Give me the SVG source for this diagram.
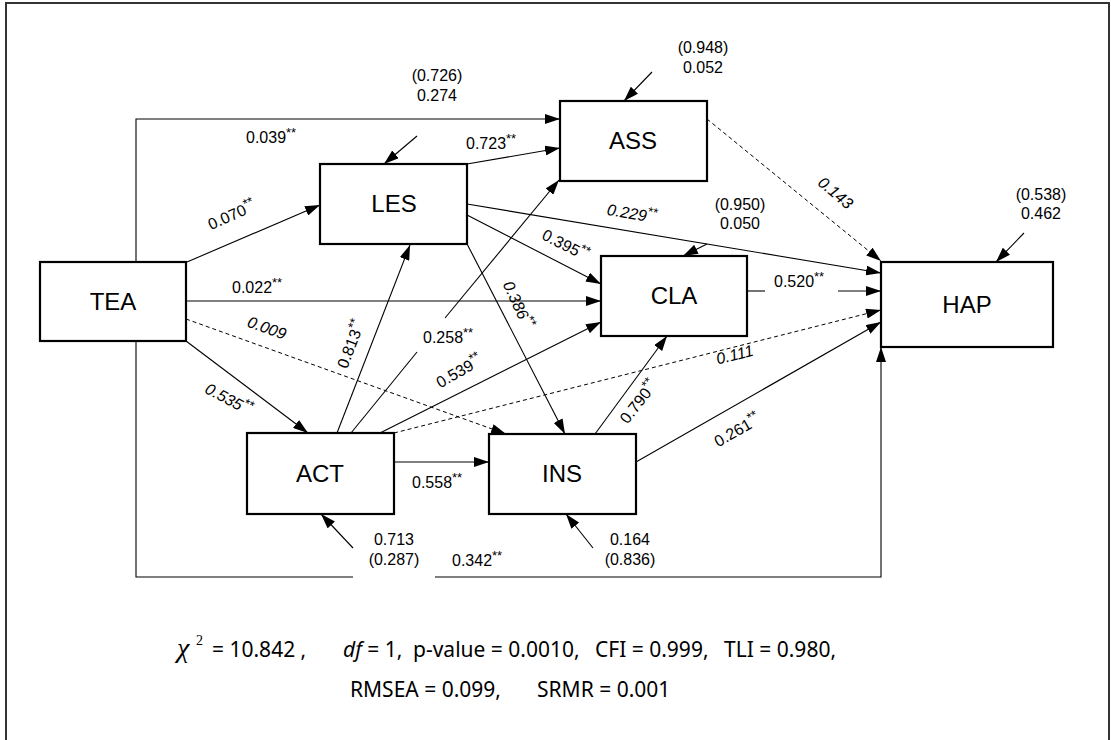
<svg xmlns="http://www.w3.org/2000/svg" width="1111" height="740" viewBox="0 0 1111 740">
<style>
.box{fill:#fff;stroke:#000;stroke-width:2.2}
.nl{font-family:"Liberation Sans",Arial,sans-serif;font-size:24px;text-anchor:middle;fill:#000}
.lb{font-family:"Liberation Sans",Arial,sans-serif;font-size:16px;fill:#000}
.c{text-anchor:middle}
.it{font-style:italic}
.sup{font-size:13px}
.ln{fill:none;stroke:#000;stroke-width:1.1}
.dash{stroke-dasharray:4 3;stroke-width:1}
.fm{font-family:"Noto Sans","DejaVu Sans",sans-serif;font-size:21px;fill:#000}
</style>
<defs>
<marker id="ah" viewBox="0 0 15 10" refX="15" refY="5" markerWidth="15" markerHeight="10" markerUnits="userSpaceOnUse" orient="auto">
<path d="M0,0 L15,5 L0,10 z" fill="#000"/>
</marker>
</defs>
<rect x="6" y="3" width="1103" height="760" fill="#fff" stroke="#333" stroke-width="2"/>

<g id="connectors">
<path class="ln" d="M136,262 V119 H560" marker-end="url(#ah)"/>
<path class="ln" d="M136,341 V577 H353"/>
<path class="ln" d="M435,577 H881 V347" marker-end="url(#ah)"/>
<path class="ln" d="M187,262 L320,205" marker-end="url(#ah)"/>
<path class="ln" d="M186,301 H601" marker-end="url(#ah)"/>
<path class="ln dash" d="M186,319 L506,434" marker-end="url(#ah)"/>
<path class="ln" d="M186,341 L308,433" marker-end="url(#ah)"/>
<path class="ln" d="M337,433 L410,245" marker-end="url(#ah)"/>
<path class="ln" d="M351,433 L417,352"/>
<path class="ln" d="M445,318 L559,180" marker-end="url(#ah)"/>
<path class="ln" d="M380,433 L601,322" marker-end="url(#ah)"/>
<path class="ln dash" d="M394,433 L881,310" marker-end="url(#ah)"/>
<path class="ln" d="M394,462 H489" marker-end="url(#ah)"/>
<path class="ln" d="M467,164 L560,148" marker-end="url(#ah)"/>
<path class="ln" d="M467,204 L881,273" marker-end="url(#ah)"/>
<path class="ln" d="M467,215 L601,284" marker-end="url(#ah)"/>
<path class="ln" d="M464,238 L565,434" marker-end="url(#ah)"/>
<path class="ln dash" d="M707,119 L881,261" marker-end="url(#ah)"/>
<path class="ln" d="M747,291 H765"/>
<path class="ln" d="M838,291 H881" marker-end="url(#ah)"/>
<path class="ln" d="M595,434 L667,336" marker-end="url(#ah)"/>
<path class="ln" d="M636,462 L881,322" marker-end="url(#ah)"/>
<path class="ln" d="M417,136 L384,164" marker-end="url(#ah)"/>
<path class="ln" d="M652,72 L624,101" marker-end="url(#ah)"/>
<path class="ln" d="M707,244 L683,256" marker-end="url(#ah)"/>
<path class="ln" d="M1024,233 L996,262" marker-end="url(#ah)"/>
<path class="ln" d="M353,548 L321,514" marker-end="url(#ah)"/>
<path class="ln" d="M593,548 L566,514" marker-end="url(#ah)"/>
</g>

<g id="TEA"><rect class="box" x="40" y="262" width="146" height="79"/><text class="nl" x="113" y="310">TEA</text></g>
<g id="LES"><rect class="box" x="320" y="164" width="147" height="80"/><text class="nl" x="394" y="212">LES</text></g>
<g id="ASS"><rect class="box" x="560" y="101" width="147" height="80"/><text class="nl" x="633" y="149">ASS</text></g>
<g id="CLA"><rect class="box" x="601" y="256" width="146" height="80"/><text class="nl" x="674" y="304">CLA</text></g>
<g id="HAP"><rect class="box" x="881" y="262" width="172" height="85"/><text class="nl" x="967" y="313">HAP</text></g>
<g id="ACT"><rect class="box" x="247" y="433" width="147" height="81"/><text class="nl" x="320" y="482">ACT</text></g>
<g id="INS"><rect class="box" x="489" y="434" width="147" height="80"/><text class="nl" x="562" y="482">INS</text></g>

<g id="labels">
<text class="lb" x="246" y="143">0.039<tspan class="sup" dy="-6">**</tspan></text>
<text class="lb c" transform="translate(234,220) rotate(-24)">0.070<tspan class="sup" dy="-6">**</tspan></text>
<text class="lb" x="232" y="293">0.022<tspan class="sup" dy="-6">**</tspan></text>
<text class="lb c it" transform="translate(265,333) rotate(20)">0.009</text>
<text class="lb c it" transform="translate(226,404) rotate(28)">0.535<tspan class="sup" dy="-6">**</tspan></text>
<text class="lb c" transform="translate(356,346) rotate(-69)">0.813<tspan class="sup" dy="-6">**</tspan></text>
<text class="lb" x="423" y="343">0.258<tspan class="sup" dy="-6">**</tspan></text>
<text class="lb c" transform="translate(462,376) rotate(-30)">0.539<tspan class="sup" dy="-6">**</tspan></text>
<text class="lb" x="412" y="488">0.558<tspan class="sup" dy="-6">**</tspan></text>
<text class="lb" x="466" y="149">0.723<tspan class="sup" dy="-6">**</tspan></text>
<text class="lb c it" transform="translate(631,219) rotate(9.5)">0.229<tspan class="sup" dy="-6">**</tspan></text>
<text class="lb c" transform="translate(563,250) rotate(27)">0.395<tspan class="sup" dy="-6">**</tspan></text>
<text class="lb c it" transform="translate(513,307) rotate(65)">0.386<tspan class="sup" dy="-6">**</tspan></text>
<text class="lb c it" transform="translate(832,197) rotate(40)">0.143</text>
<text class="lb c it" transform="translate(736,360) rotate(-14)">0.111</text>
<text class="lb" x="774" y="287">0.520<tspan class="sup" dy="-6">**</tspan></text>
<text class="lb c" transform="translate(643,405) rotate(-52)">0.790<tspan class="sup" dy="-6">**</tspan></text>
<text class="lb c" transform="translate(740,435) rotate(-30)">0.261<tspan class="sup" dy="-6">**</tspan></text>
<text class="lb" x="452" y="566">0.342<tspan class="sup" dy="-6">**</tspan></text>
<text class="lb c" x="437" y="81">(0.726)</text>
<text class="lb c" x="437" y="101">0.274</text>
<text class="lb c" x="703" y="53">(0.948)</text>
<text class="lb c" x="703" y="73">0.052</text>
<text class="lb c" x="740" y="210">(0.950)</text>
<text class="lb c" x="740" y="229">0.050</text>
<text class="lb c" x="1041" y="200">(0.538)</text>
<text class="lb c" x="1041" y="219">0.462</text>
<text class="lb c" x="394" y="545">0.713</text>
<text class="lb c" x="394" y="565">(0.287)</text>
<text class="lb c" x="630" y="545">0.164</text>
<text class="lb c" x="630" y="565">(0.836)</text>
</g>

<g id="fit">
<text x="177" y="657" font-family="'Liberation Serif',serif" font-style="italic" font-size="28px">χ</text>
<text x="196" y="645" font-family="'Liberation Serif',serif" font-size="14px">2</text>
<text class="fm" x="212" y="657">= 10.842 ,</text>
<text class="fm" x="343" y="657"><tspan font-style="italic">df</tspan> = 1,</text>
<text class="fm" x="413" y="657">p-value = 0.0010,</text>
<text class="fm" x="595" y="657">CFI = 0.999,</text>
<text class="fm" x="724" y="657">TLI = 0.980,</text>
<text class="fm" x="350" y="697">RMSEA = 0.099,</text>
<text class="fm" x="537" y="697">SRMR = 0.001</text>
</g>
</svg>
